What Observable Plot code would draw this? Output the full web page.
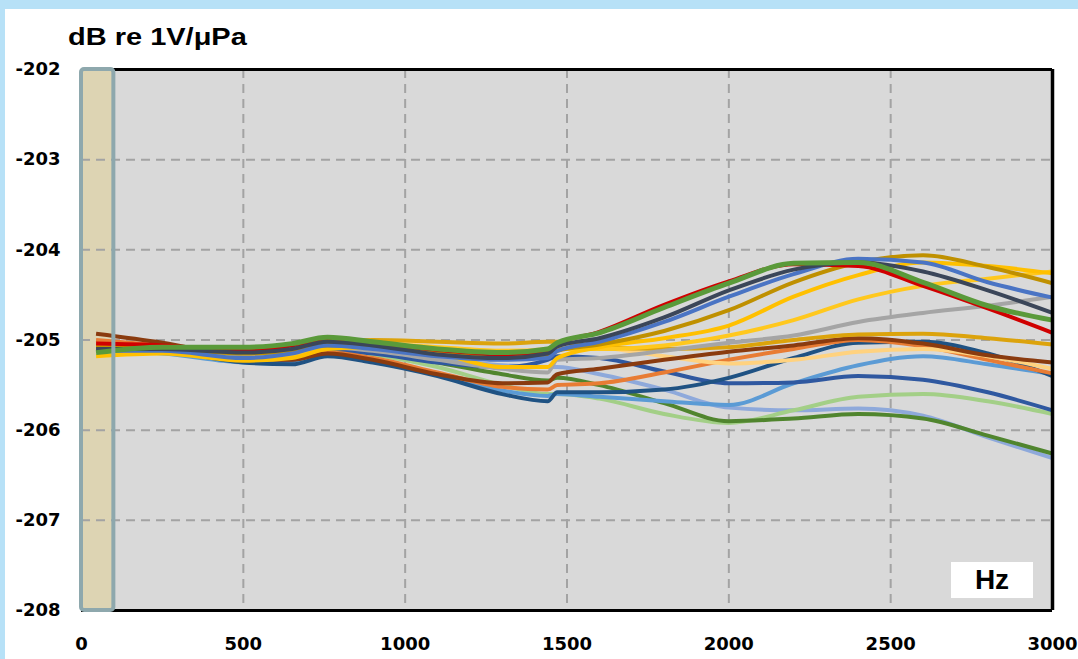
<!DOCTYPE html>
<html>
<head>
<meta charset="utf-8">
<script src="https://cdn.jsdelivr.net/npm/d3@7"></script>
<script src="https://cdn.jsdelivr.net/npm/@observablehq/plot@0.6"></script>
<style>
  html, body { margin: 0; padding: 0; }
  body { width: 1078px; height: 659px; overflow: hidden; background: #b7e1f7; position: relative; }
  #panel { position: absolute; left: 5px; top: 9px; right: 0; bottom: 0; background: #ffffff; }
  #chart { position: absolute; left: 0; top: 0; }
  #ytitle { position: absolute; left: 68px; top: 25px; font: bold 23px "Liberation Sans"; line-height: 24px;
            transform: scaleX(1.26); transform-origin: left top; white-space: nowrap; color: #000; }
  #hz { position: absolute; left: 951px; top: 562px; width: 82px; height: 36px; background: #fff;
        font: bold 28px "Liberation Sans"; display: flex; align-items: center; justify-content: center; color: #000; }
</style>
</head>
<body>
<div id="panel"></div>
<div id="chart"></div>
<div id="ytitle">dB re 1V/μPa</div>
<div id="hz">Hz</div>
<script>
// ---- data ----
const xTicks = [0, 500, 1000, 1500, 2000, 2500, 3000];
const yTicks = [-202, -203, -204, -205, -206, -207, -208];
const bandHz = [0, 100];
const freqs = [45, 250, 500, 650, 760, 900, 1100, 1300, 1440, 1470, 1600, 1800, 2000, 2200, 2400, 2600, 2800, 3000];

const lavender   = [-205.08,-205.12,-205.20,-205.18,-205.08,-205.10,-205.20,-205.28,-205.30,-205.30,-205.38,-205.55,-205.75,-205.78,-205.76,-205.84,-206.08,-206.31];
const lightgreen = [-205.10,-205.12,-205.20,-205.18,-205.10,-205.16,-205.30,-205.50,-205.60,-205.60,-205.65,-205.82,-205.92,-205.78,-205.63,-205.60,-205.68,-205.82];
const midgreen   = [-205.12,-205.12,-205.18,-205.16,-205.08,-205.12,-205.25,-205.38,-205.45,-205.42,-205.50,-205.70,-205.90,-205.87,-205.82,-205.87,-206.06,-206.26];
const lightblue  = [-205.12,-205.15,-205.25,-205.26,-205.16,-205.22,-205.38,-205.56,-205.62,-205.60,-205.63,-205.68,-205.72,-205.48,-205.28,-205.18,-205.27,-205.38];
const medblue    = [-205.10,-205.12,-205.22,-205.22,-205.12,-205.15,-205.25,-205.30,-205.22,-205.18,-205.20,-205.35,-205.48,-205.47,-205.40,-205.44,-205.58,-205.78];
const darkblue   = [-205.10,-205.12,-205.25,-205.27,-205.18,-205.25,-205.40,-205.60,-205.68,-205.58,-205.58,-205.55,-205.42,-205.20,-205.03,-205.02,-205.15,-205.40];
const orange     = [-205.00,-205.06,-205.15,-205.20,-205.14,-205.20,-205.36,-205.52,-205.55,-205.50,-205.48,-205.36,-205.22,-205.10,-205.00,-205.07,-205.22,-205.37];
const peach      = [-205.06,-205.08,-205.15,-205.12,-205.04,-205.02,-205.08,-205.12,-205.10,-205.05,-205.08,-205.18,-205.26,-205.22,-205.13,-205.10,-205.18,-205.32];
const brown      = [-204.93,-205.03,-205.19,-205.22,-205.15,-205.22,-205.38,-205.48,-205.47,-205.38,-205.32,-205.22,-205.13,-205.06,-204.98,-205.04,-205.17,-205.25];
const goldC      = [-205.08,-205.10,-205.16,-205.14,-205.05,-205.00,-205.02,-205.04,-205.02,-205.02,-205.08,-205.10,-205.08,-205.00,-204.94,-204.93,-204.98,-205.05];
const gray       = [-205.10,-205.12,-205.18,-205.15,-205.08,-205.12,-205.22,-205.32,-205.36,-205.22,-205.20,-205.12,-205.03,-204.95,-204.80,-204.70,-204.62,-204.52];
const yellowB    = [-205.12,-205.12,-205.20,-205.17,-205.08,-205.05,-205.08,-205.12,-205.12,-205.10,-205.10,-205.06,-204.95,-204.78,-204.55,-204.40,-204.32,-204.24];
const yellowA    = [-205.18,-205.15,-205.23,-205.20,-205.10,-205.08,-205.15,-205.30,-205.30,-205.20,-205.08,-204.98,-204.84,-204.52,-204.28,-204.14,-204.18,-204.26];
const darkgold   = [-205.08,-205.10,-205.15,-205.12,-205.06,-205.06,-205.12,-205.18,-205.18,-205.12,-205.05,-204.90,-204.67,-204.36,-204.14,-204.06,-204.19,-204.37];
const blue       = [-205.12,-205.12,-205.20,-205.15,-205.06,-205.10,-205.18,-205.22,-205.20,-205.12,-205.02,-204.80,-204.52,-204.27,-204.10,-204.14,-204.36,-204.53];
const red        = [-205.04,-205.06,-205.12,-205.06,-205.00,-205.04,-205.11,-205.16,-205.12,-205.05,-204.91,-204.61,-204.35,-204.16,-204.18,-204.40,-204.65,-204.92];
const navy       = [-205.10,-205.10,-205.14,-205.10,-205.02,-205.06,-205.16,-205.20,-205.15,-205.07,-204.98,-204.75,-204.45,-204.22,-204.14,-204.24,-204.45,-204.70];
const green      = [-205.14,-205.08,-205.08,-205.04,-204.97,-205.02,-205.10,-205.14,-205.10,-205.03,-204.92,-204.64,-204.37,-204.15,-204.14,-204.36,-204.62,-204.78];

const seriesNames  = ["lavender","lightgreen","midgreen","lightblue","medblue","darkblue","orange","peach","brown","goldC","gray","yellowB","yellowA","darkgold","blue","red","navy","green"];
const seriesValues = [lavender,lightgreen,midgreen,lightblue,medblue,darkblue,orange,peach,brown,goldC,gray,yellowB,yellowA,darkgold,blue,red,navy,green];

// ---- styles ----
const seriesColors = ["#8ea9db","#a3cf87","#50852e","#5b9bd5","#2f58a0","#1f5283","#e87c34","#ffd27f","#8a3b0f","#dca30c","#a5a5a5","#ffc81e","#ffc000","#bf9000","#4a74c4","#d00000","#3b4659","#5a9a3a"];
const seriesWidths = [4,4,4,4,4,4,4,4,4,4,4,4,4,4,4,4,4,5];

const rows = [];
seriesNames.forEach((name, i) => {
  freqs.forEach((f, j) => rows.push({series: name, f, db: seriesValues[i][j]}));
});

const yTop = d3.max(yTicks), yBot = d3.min(yTicks);
const xEnd = d3.max(xTicks);

const lineMarks = seriesNames.map((name, i) =>
  Plot.line(rows.filter(r => r.series === name), {
    x: "f", y: "db", stroke: seriesColors[i], strokeWidth: seriesWidths[i],
    curve: "monotone-x", strokeLinejoin: "round", strokeLinecap: "butt"
  })
);

const chart = Plot.plot({
  width: 1078, height: 659,
  marginLeft: 81, marginRight: 26, marginTop: 69, marginBottom: 49,
  style: {background: "transparent", fontFamily: "DejaVu Sans", fontSize: "18px", fontWeight: "bold", color: "#000", overflow: "visible"},
  x: {domain: [0, xEnd], ticks: xTicks, tickSize: 0, tickPadding: 27, label: null, tickFormat: d => String(d)},
  y: {domain: [yBot, yTop], ticks: yTicks, tickSize: 0, tickPadding: 21, label: null, tickFormat: d => String(d)},
  marks: [
    Plot.frame({fill: "#d9d9d9", stroke: null}),
    Plot.rect([bandHz], {x1: d => d[0], x2: d => d[1], y1: yBot, y2: yTop, fill: "#ddd4b3"}),
    Plot.gridX(xTicks.slice(1, -1), {stroke: "#a3a3a3", strokeOpacity: 1, strokeWidth: 2, strokeDasharray: "9,6"}),
    Plot.gridY(yTicks.slice(1, -1), {stroke: "#a3a3a3", strokeOpacity: 1, strokeWidth: 2, strokeDasharray: "9,6"}),
    ...lineMarks,
    Plot.ruleY([yTop, yBot], {stroke: "#000", strokeWidth: 3}),
    Plot.ruleX([xEnd], {stroke: "#000", strokeWidth: 3.5}),
    Plot.rect([bandHz], {x1: d => d[0], x2: d => d[1], y1: yBot, y2: yTop, fill: "none", stroke: "#8ea8ad", strokeWidth: 4, rx: 3}),
    Plot.axisX({ticks: xTicks, tickSize: 0, tickPadding: 27, tickFormat: d => String(d), label: null}),
    Plot.axisY({ticks: yTicks, tickSize: 0, tickPadding: 21, tickFormat: d => String(d), label: null})
  ]
});
document.getElementById("chart").appendChild(chart);
</script>
</body>
</html>
